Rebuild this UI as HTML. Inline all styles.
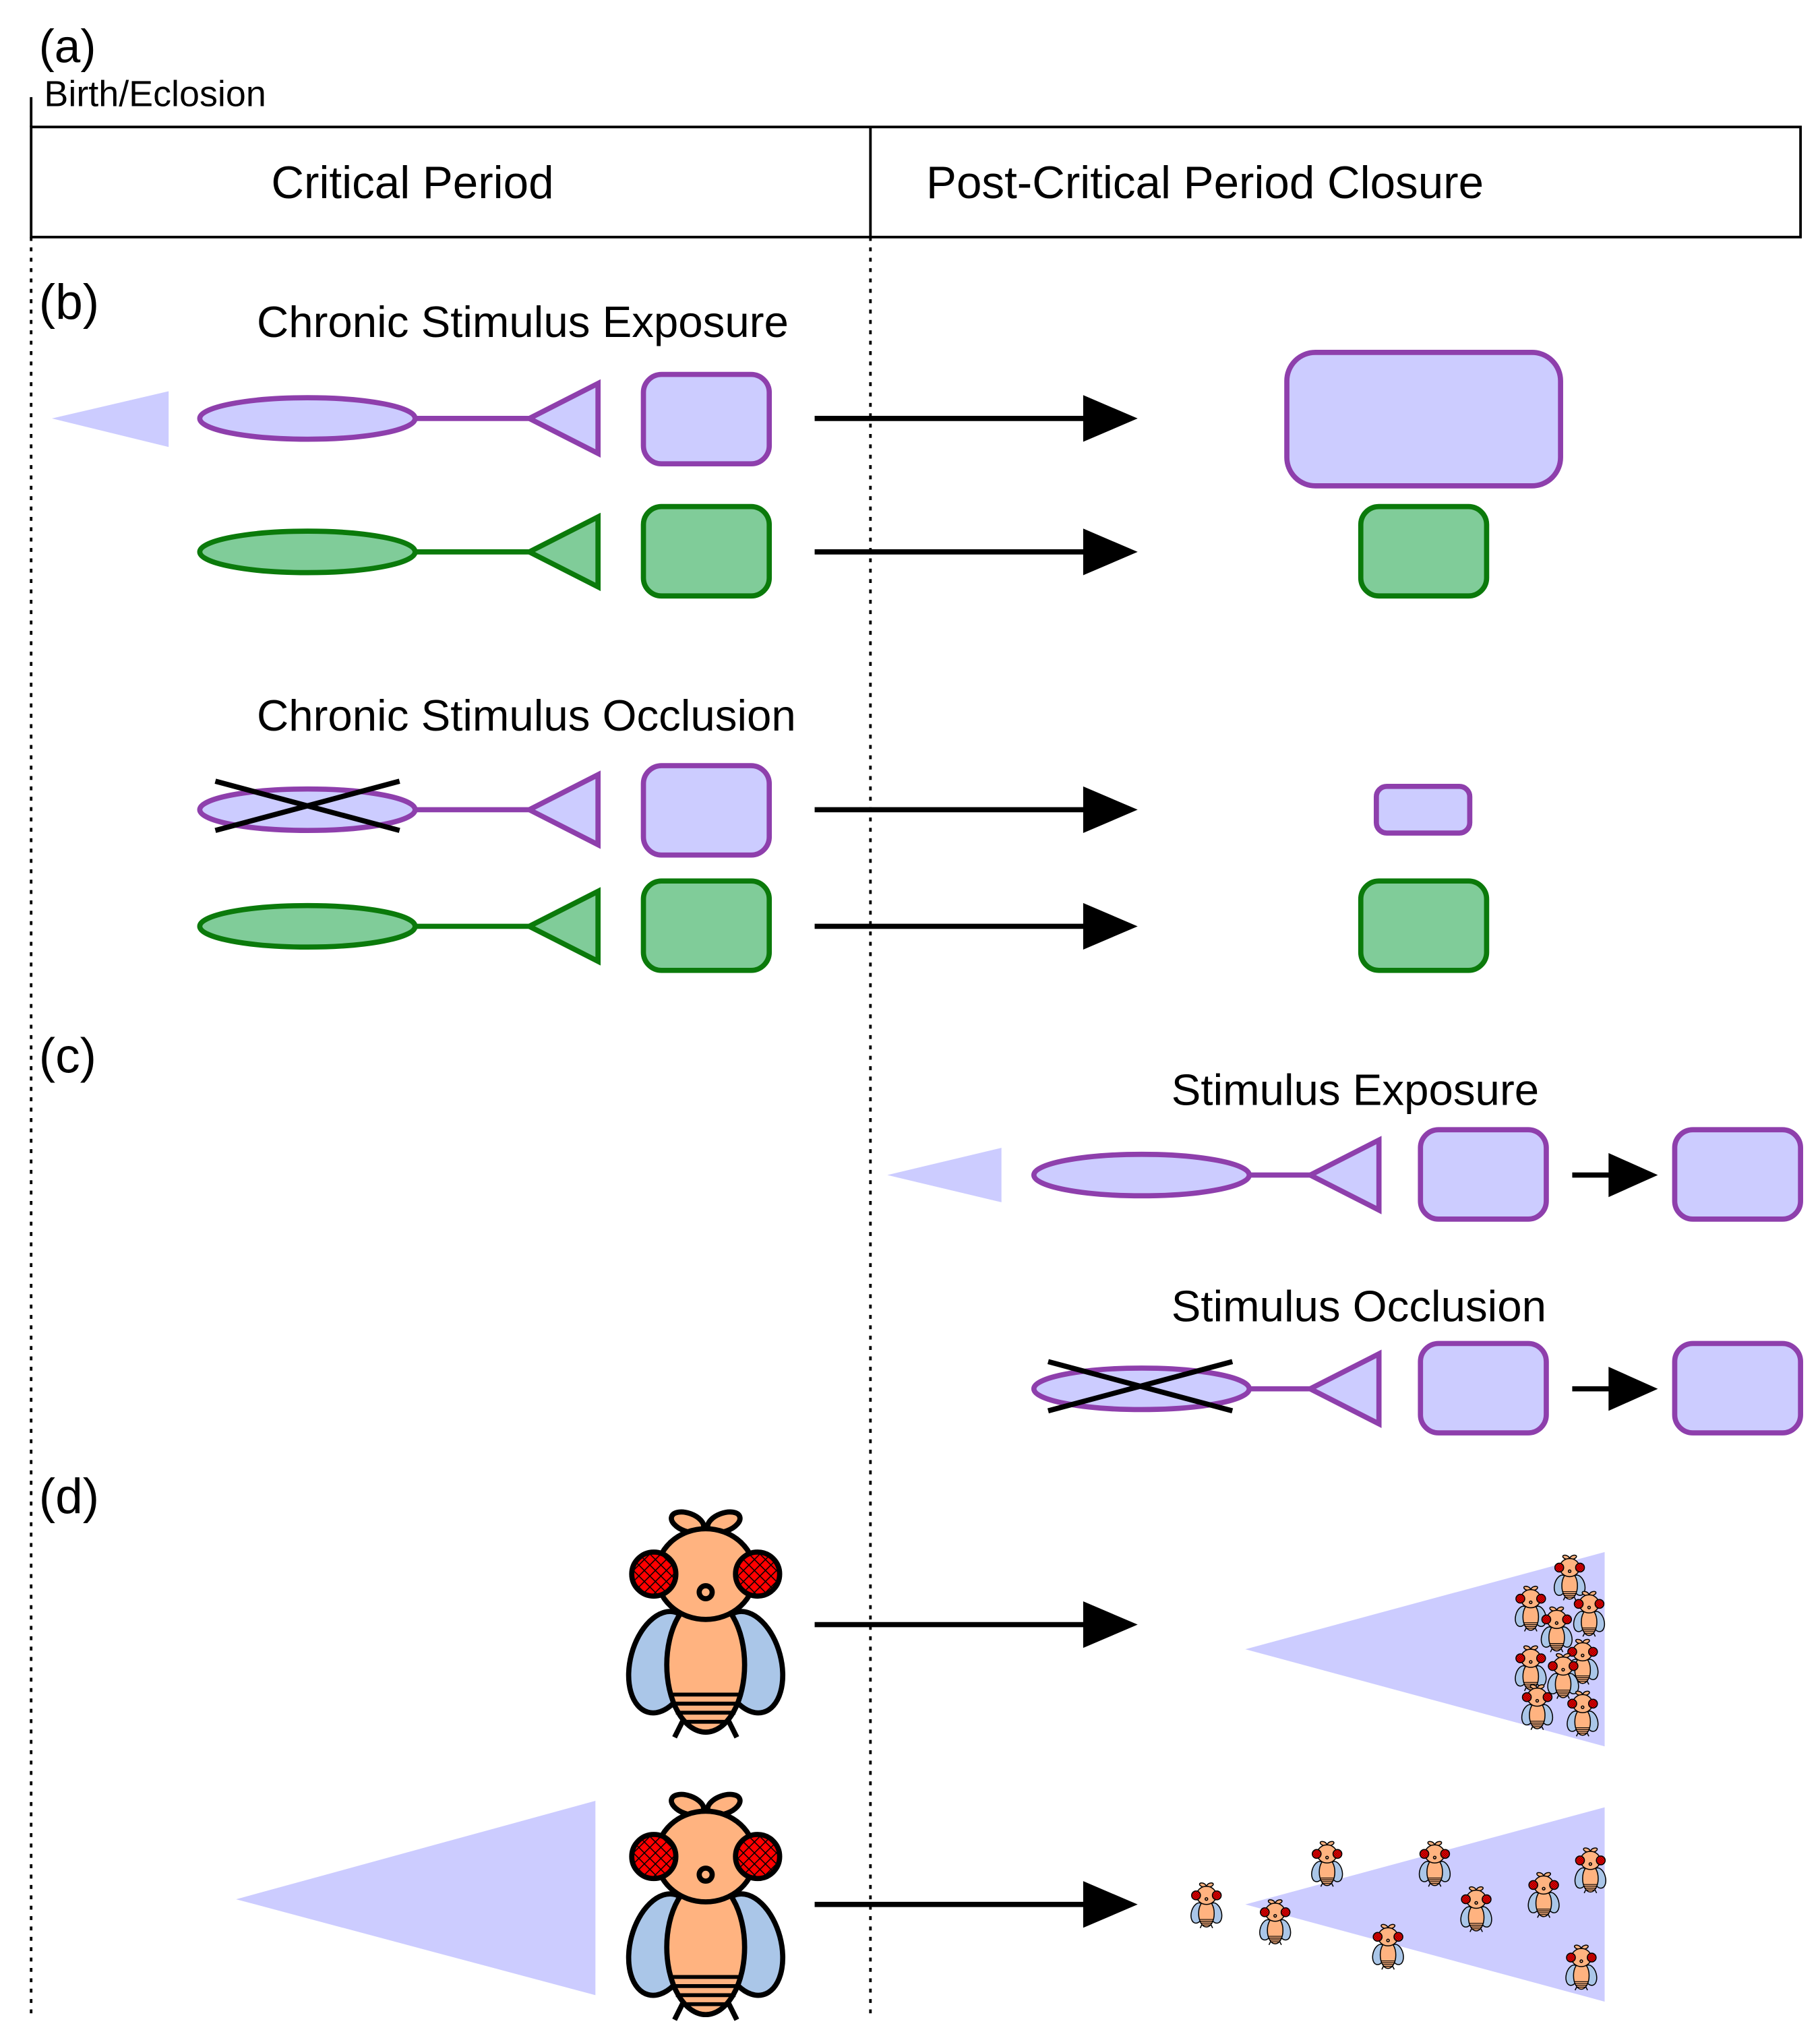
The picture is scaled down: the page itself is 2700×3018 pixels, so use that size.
<!DOCTYPE html>
<html><head><meta charset="utf-8"><style>
html,body{margin:0;padding:0;background:#fff}
svg{display:block}
text{font-family:"Liberation Sans",sans-serif;fill:#000}
</style></head><body>
<svg width="2700" height="3018" viewBox="0 0 1403 1570" preserveAspectRatio="none" xmlns="http://www.w3.org/2000/svg">
<defs>
<pattern id="hatch" width="6" height="6" patternUnits="userSpaceOnUse" patternTransform="rotate(45)">
<rect width="6" height="6" fill="#ff0000"/>
<line x1="0" y1="0" x2="0" y2="6" stroke="#000" stroke-width="1.6"/>
<line x1="0" y1="0" x2="6" y2="0" stroke="#000" stroke-width="1.6"/>
</pattern>
<g id="fly" stroke="#000" stroke-width="4">
<ellipse cx="46" cy="10" rx="13" ry="7" transform="rotate(20 46 10)" fill="#ffb380"/>
<ellipse cx="74" cy="10" rx="13" ry="7" transform="rotate(-20 74 10)" fill="#ffb380"/>
<ellipse cx="26" cy="118" rx="24" ry="40" transform="rotate(15 26 118)" fill="#aac6e8"/>
<ellipse cx="94" cy="118" rx="24" ry="40" transform="rotate(-15 94 118)" fill="#aac6e8"/>
<line x1="44" y1="160" x2="36" y2="176"/>
<line x1="76" y1="160" x2="84" y2="176"/>
<ellipse cx="60" cy="120" rx="30" ry="52" fill="#ffb380"/>
<line x1="33" y1="143" x2="87" y2="143" stroke-width="3"/>
<line x1="34" y1="150" x2="86" y2="150" stroke-width="3"/>
<line x1="37" y1="157" x2="83" y2="157" stroke-width="3"/>
<line x1="42" y1="164" x2="78" y2="164" stroke-width="3"/>
<ellipse cx="60" cy="50" rx="38" ry="35" fill="#ffb380"/>
<circle cx="20" cy="50" r="17" fill="url(#hatch)"/>
<circle cx="100" cy="50" r="17" fill="url(#hatch)"/>
<circle cx="60" cy="64" r="5" fill="#ffb380"/>
</g>
</defs>

<text x="30" y="48" font-size="36">(a)</text>
<text x="34" y="82" font-size="28">Birth/Eclosion</text>
<line x1="24" y1="75" x2="24" y2="98" stroke="#000" stroke-width="2"/>
<rect x="24" y="98" width="1364" height="85" fill="none" stroke="#000" stroke-width="2"/>
<line x1="671" y1="98" x2="671" y2="183" stroke="#000" stroke-width="2"/>
<text x="318" y="153" font-size="35" text-anchor="middle">Critical Period</text>
<text x="714" y="153" font-size="35">Post-Critical Period Closure</text>
<line x1="24" y1="183" x2="24" y2="1556" stroke="#000" stroke-width="2" stroke-dasharray="3,5"/>
<line x1="671" y1="183" x2="671" y2="1556" stroke="#000" stroke-width="2" stroke-dasharray="3,5"/>

<text x="30" y="246" font-size="38">(b)</text>
<text x="198" y="260" font-size="34">Chronic Stimulus Exposure</text>
<text x="198" y="564" font-size="34">Chronic Stimulus Occlusion</text>
<text x="30" y="828" font-size="38">(c)</text>
<text x="903" y="853" font-size="34">Stimulus Exposure</text>
<text x="903" y="1020" font-size="34">Stimulus Occlusion</text>
<text x="30" y="1168" font-size="38">(d)</text>

<g stroke-width="4">
<polygon points="40,323 130,302 130,345" fill="#ccccff"/>
<line x1="320" y1="323" x2="408" y2="323" stroke="#8e3fac"/>
<ellipse cx="237" cy="323" rx="83" ry="16" fill="#ccccff" stroke="#8e3fac"/>
<polygon points="408,323 461,296 461,350" fill="#ccccff" stroke="#8e3fac"/>
<rect x="496" y="289" width="97" height="69" rx="14" fill="#ccccff" stroke="#8e3fac"/>
<rect x="992" y="272" width="211" height="103" rx="22" fill="#ccccff" stroke="#8e3fac"/>
<line x1="320" y1="426" x2="408" y2="426" stroke="#0b7a0b"/>
<ellipse cx="237" cy="426" rx="83" ry="16" fill="#80cc99" stroke="#0b7a0b"/>
<polygon points="408,426 461,399 461,453" fill="#80cc99" stroke="#0b7a0b"/>
<rect x="496" y="391" width="97" height="69" rx="14" fill="#80cc99" stroke="#0b7a0b"/>
<rect x="1049" y="391" width="97" height="69" rx="14" fill="#80cc99" stroke="#0b7a0b"/>
<line x1="320" y1="625" x2="408" y2="625" stroke="#8e3fac"/>
<ellipse cx="237" cy="625" rx="83" ry="16" fill="#ccccff" stroke="#8e3fac"/>
<line x1="166" y1="603" x2="308" y2="641" stroke="#000"/>
<line x1="166" y1="641" x2="308" y2="603" stroke="#000"/>
<polygon points="408,625 461,598 461,652" fill="#ccccff" stroke="#8e3fac"/>
<rect x="496" y="591" width="97" height="69" rx="14" fill="#ccccff" stroke="#8e3fac"/>
<rect x="1061" y="607" width="72" height="36" rx="8" fill="#ccccff" stroke="#8e3fac"/>
<line x1="320" y1="715" x2="408" y2="715" stroke="#0b7a0b"/>
<ellipse cx="237" cy="715" rx="83" ry="16" fill="#80cc99" stroke="#0b7a0b"/>
<polygon points="408,715 461,688 461,742" fill="#80cc99" stroke="#0b7a0b"/>
<rect x="496" y="680" width="97" height="69" rx="14" fill="#80cc99" stroke="#0b7a0b"/>
<rect x="1049" y="680" width="97" height="69" rx="14" fill="#80cc99" stroke="#0b7a0b"/>
<polygon points="684,907 772,886 772,928" fill="#ccccff"/>
<line x1="963" y1="907" x2="1010" y2="907" stroke="#8e3fac"/>
<ellipse cx="880" cy="907" rx="83" ry="16" fill="#ccccff" stroke="#8e3fac"/>
<polygon points="1010,907 1063,880 1063,934" fill="#ccccff" stroke="#8e3fac"/>
<rect x="1095" y="872" width="97" height="69" rx="14" fill="#ccccff" stroke="#8e3fac"/>
<rect x="1291" y="872" width="97" height="69" rx="14" fill="#ccccff" stroke="#8e3fac"/>
<line x1="963" y1="1072" x2="1010" y2="1072" stroke="#8e3fac"/>
<ellipse cx="880" cy="1072" rx="83" ry="16" fill="#ccccff" stroke="#8e3fac"/>
<line x1="808" y1="1051" x2="950" y2="1089" stroke="#000"/>
<line x1="808" y1="1089" x2="950" y2="1051" stroke="#000"/>
<polygon points="1010,1072 1063,1045 1063,1099" fill="#ccccff" stroke="#8e3fac"/>
<rect x="1095" y="1037" width="97" height="69" rx="14" fill="#ccccff" stroke="#8e3fac"/>
<rect x="1291" y="1037" width="97" height="69" rx="14" fill="#ccccff" stroke="#8e3fac"/>
</g>

<g stroke="#000" stroke-width="4" fill="#000">
<line x1="628" y1="323" x2="840" y2="323"/><polygon points="835,305 877,323 835,341" stroke="none"/>
<line x1="628" y1="426" x2="840" y2="426"/><polygon points="835,408 877,426 835,444" stroke="none"/>
<line x1="628" y1="625" x2="840" y2="625"/><polygon points="835,607 877,625 835,643" stroke="none"/>
<line x1="628" y1="715" x2="840" y2="715"/><polygon points="835,697 877,715 835,733" stroke="none"/>
<line x1="1212" y1="907" x2="1245" y2="907"/><polygon points="1240,890 1278,907 1240,924" stroke="none"/>
<line x1="1212" y1="1072" x2="1245" y2="1072"/><polygon points="1240,1055 1278,1072 1240,1089" stroke="none"/>
<line x1="628" y1="1254" x2="840" y2="1254"/><polygon points="835,1236 877,1254 835,1272" stroke="none"/>
<line x1="628" y1="1470" x2="840" y2="1470"/><polygon points="835,1452 877,1470 835,1488" stroke="none"/>
</g>

<polygon points="960,1273 1237,1198 1237,1348" fill="#ccccff"/>
<polygon points="960,1470 1237,1395 1237,1545" fill="#ccccff"/>
<polygon points="182,1466 459,1390 459,1540" fill="#ccccff"/>
<use href="#fly" x="484" y="1165"/>
<use href="#fly" x="484" y="1383"/>

<g>
<use href="#fly" transform="translate(1198,1200) scale(0.2)"/>
<use href="#fly" transform="translate(1168,1224) scale(0.2)"/>
<use href="#fly" transform="translate(1213,1228) scale(0.2)"/>
<use href="#fly" transform="translate(1188,1240) scale(0.2)"/>
<use href="#fly" transform="translate(1168,1270) scale(0.2)"/>
<use href="#fly" transform="translate(1208,1265) scale(0.2)"/>
<use href="#fly" transform="translate(1193,1276) scale(0.2)"/>
<use href="#fly" transform="translate(1173,1300) scale(0.2)"/>
<use href="#fly" transform="translate(1208,1305) scale(0.2)"/>
<use href="#fly" transform="translate(918,1453) scale(0.2)"/>
<use href="#fly" transform="translate(971,1466) scale(0.2)"/>
<use href="#fly" transform="translate(1011,1421) scale(0.2)"/>
<use href="#fly" transform="translate(1094,1421) scale(0.2)"/>
<use href="#fly" transform="translate(1126,1456) scale(0.2)"/>
<use href="#fly" transform="translate(1058,1485) scale(0.2)"/>
<use href="#fly" transform="translate(1178,1445) scale(0.2)"/>
<use href="#fly" transform="translate(1214,1426) scale(0.2)"/>
<use href="#fly" transform="translate(1207,1501) scale(0.2)"/>
</g>
</svg>
</body></html>
